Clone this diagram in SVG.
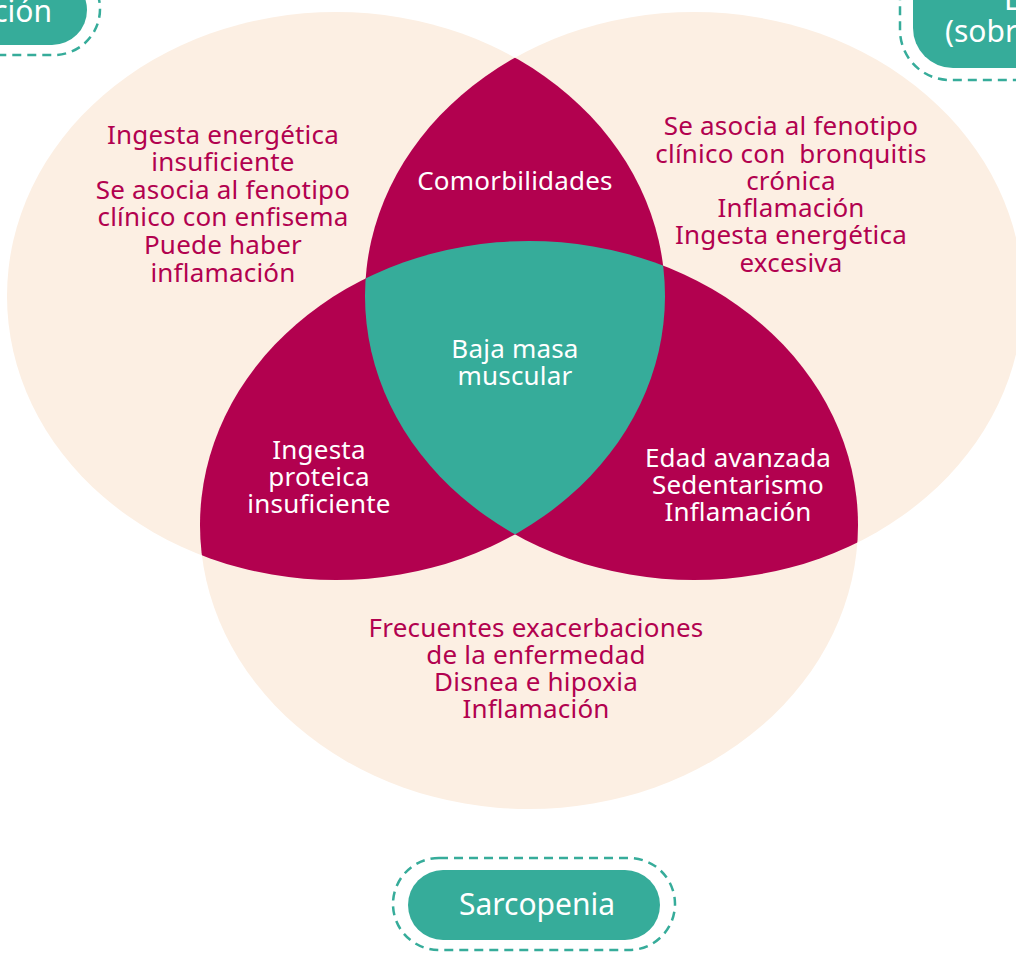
<svg xmlns="http://www.w3.org/2000/svg" width="1016" height="955" viewBox="0 0 1016 955">
<style>
.bg{fill:#FCEFE3}
.mag{fill:#B2014F}
.teal{fill:#36AC9A}
.t{font-family:"Noto Sans","Open Sans","Liberation Sans",sans-serif;font-size:26px;letter-spacing:0.2px;text-anchor:middle}
.tm{fill:#B2014F}
.tw{fill:#FFFFFF}
.pill{fill:#36AC9A}
.dash{fill:none;stroke:#36AC9A;stroke-width:2.5;stroke-dasharray:9 6}
.pt{font-family:"Noto Sans","Open Sans","Liberation Sans",sans-serif;font-size:30px;fill:#FFFFFF}
</style>
<defs>
<ellipse id="eL" cx="336" cy="296" rx="329" ry="284"/>
<ellipse id="eR" cx="694" cy="296" rx="329" ry="284"/>
<ellipse id="eB" cx="529" cy="525" rx="329" ry="284"/>
<clipPath id="cL"><use href="#eL"/></clipPath>
<clipPath id="cR"><use href="#eR"/></clipPath>
<clipPath id="cB"><use href="#eB"/></clipPath>
</defs>
<rect width="1016" height="955" fill="#FFFFFF"/>
<g id="circles">
<use href="#eL" class="bg"/>
<use href="#eR" class="bg"/>
<use href="#eB" class="bg"/>
</g>
<g id="overlap-comorbilidades">
<g clip-path="url(#cR)"><use href="#eL" class="mag"/></g>
<text class="t tw" x="515" y="190">Comorbilidades</text>
</g>
<g id="overlap-ingesta-proteica">
<g clip-path="url(#cB)"><use href="#eL" class="mag"/></g>
<text class="t tw" x="319" y="459">Ingesta</text>
<text class="t tw" x="319" y="486">proteica</text>
<text class="t tw" x="319" y="513">insuficiente</text>
</g>
<g id="overlap-edad">
<g clip-path="url(#cR)"><use href="#eB" class="mag"/></g>
<text class="t tw" x="738" y="467">Edad avanzada</text>
<text class="t tw" x="738" y="494">Sedentarismo</text>
<text class="t tw" x="738" y="521">Inflamación</text>
</g>
<g id="center-baja-masa">
<g clip-path="url(#cR)"><g clip-path="url(#cB)"><use href="#eL" class="teal"/></g></g>
<text class="t tw" x="515" y="358">Baja masa</text>
<text class="t tw" x="515" y="385">muscular</text>
</g>
<g id="left-text">
<text class="t tm" x="223" y="144">Ingesta energética</text>
<text class="t tm" x="223" y="171">insuficiente</text>
<text class="t tm" x="223" y="199">Se asocia al fenotipo</text>
<text class="t tm" x="223" y="226">clínico con enfisema</text>
<text class="t tm" x="223" y="254">Puede haber</text>
<text class="t tm" x="223" y="282">inflamación</text>
</g>
<g id="right-text">
<text class="t tm" x="791" y="135">Se asocia al fenotipo</text>
<text class="t tm" x="791" y="163" xml:space="preserve">clínico con  bronquitis</text>
<text class="t tm" x="791" y="190">crónica</text>
<text class="t tm" x="791" y="217">Inflamación</text>
<text class="t tm" x="791" y="244">Ingesta energética</text>
<text class="t tm" x="791" y="272">excesiva</text>
</g>
<g id="bottom-text">
<text class="t tm" x="536" y="637">Frecuentes exacerbaciones</text>
<text class="t tm" x="536" y="664">de la enfermedad</text>
<text class="t tm" x="536" y="691">Disnea e hipoxia</text>
<text class="t tm" x="536" y="718">Inflamación</text>
</g>
<g id="label-left">
<rect class="dash" x="-250" y="-37" width="350" height="92" rx="46"/>
<rect class="pill" x="-240" y="-25" width="327" height="70" rx="35"/>
<text class="pt" x="52" y="22" text-anchor="end">ción</text>
</g>
<g id="label-right">
<rect class="dash" x="900" y="-60" width="300" height="140" rx="50"/>
<rect class="pill" x="913" y="-48" width="280" height="116" rx="40"/>
<text class="pt" x="1004" y="10">E</text>
<text class="pt" x="945" y="42">(sobr</text>
</g>
<g id="label-sarcopenia">
<rect class="dash" x="393" y="858" width="282" height="92" rx="46"/>
<rect class="pill" x="408" y="870" width="252" height="70" rx="35"/>
<text class="pt" x="537" y="915" text-anchor="middle">Sarcopenia</text>
</g>
</svg>
